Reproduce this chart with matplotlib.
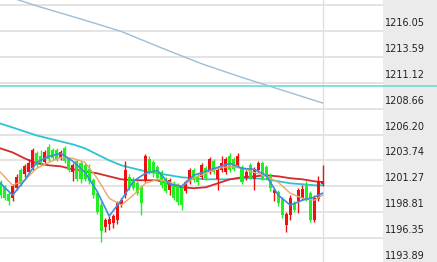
import matplotlib
matplotlib.use("Agg")
import matplotlib.pyplot as plt
import matplotlib.transforms as mtransforms
from matplotlib.patches import Rectangle
import numpy as np

# ---------------- data ----------------
# candle colour flag: 1 = up (red), 0 = down (green)
up = [0, 0, 0, 1, 1, 0, 1, 1, 1, 0, 0, 1, 0, 0, 0, 1, 0, 0, 1, 0,
      0, 0, 0, 0, 0, 0, 1, 1, 1, 1, 1, 1, 0, 0, 0, 0, 1, 0, 0, 0,
      0, 0, 1, 0, 0, 0, 1, 1, 0, 0, 1, 0, 1, 0, 1, 1, 1, 0, 0, 1,
      0, 1, 0, 1, 1, 0, 0, 0, 1, 0, 0, 1, 1, 0, 1, 1, 0, 0, 1, 1, 1]
body_top = [1201.7, 1201.2, 1200.5, 1201.3, 1202.2, 1202.8, 1203.2, 1203.5, 1204.7, 1204.4,
            1204.2, 1204.5, 1205.0, 1204.7, 1204.7, 1204.5, 1204.9, 1203.9, 1203.3, 1203.7,
            1203.5, 1203.3, 1202.9, 1201.9, 1200.6, 1199.5, 1198.1, 1198.2, 1198.4, 1199.7,
            1200.0, 1202.8, 1202.2, 1202.0, 1201.6, 1201.2, 1204.2, 1203.9, 1203.6, 1203.1,
            1202.6, 1202.0, 1201.9, 1201.6, 1201.4, 1201.1, 1201.7, 1202.8, 1202.8, 1202.3,
            1203.3, 1203.0, 1203.9, 1203.7, 1202.8, 1203.5, 1203.9, 1204.2, 1203.9, 1204.2,
            1203.1, 1202.6, 1203.3, 1202.9, 1203.5, 1203.5, 1203.1, 1202.3, 1200.9, 1200.7,
            1200.1, 1198.6, 1200.2, 1199.7, 1200.9, 1201.0, 1201.5, 1200.6, 1200.2, 1201.8, 1201.8]
body_bot = [1200.4, 1200.2, 1199.9, 1200.2, 1201.1, 1201.5, 1202.4, 1202.6, 1203.0, 1203.3,
            1203.5, 1203.6, 1203.9, 1204.0, 1203.9, 1204.0, 1203.7, 1202.8, 1202.6, 1202.0,
            1202.0, 1202.0, 1201.8, 1200.4, 1198.8, 1197.0, 1197.4, 1197.7, 1197.8, 1198.1,
            1199.5, 1200.4, 1201.2, 1201.1, 1200.6, 1199.7, 1201.9, 1202.6, 1202.5, 1202.1,
            1201.4, 1200.8, 1200.9, 1200.2, 1199.8, 1199.5, 1200.8, 1201.7, 1201.9, 1201.7,
            1202.2, 1202.1, 1202.6, 1202.6, 1202.0, 1202.8, 1202.6, 1202.8, 1202.9, 1203.3,
            1201.7, 1202.1, 1202.2, 1202.0, 1202.8, 1202.1, 1202.2, 1201.1, 1200.6, 1199.7,
            1198.5, 1197.6, 1198.5, 1199.0, 1199.9, 1200.2, 1200.2, 1198.1, 1198.1, 1200.1, 1201.5]
high = [1201.9, 1201.4, 1200.7, 1201.5, 1202.4, 1203.0, 1203.4, 1203.9, 1204.9, 1204.6,
        1204.7, 1204.7, 1205.3, 1204.9, 1204.9, 1204.7, 1205.1, 1204.1, 1203.5, 1203.9,
        1203.7, 1203.5, 1203.4, 1202.1, 1200.8, 1199.8, 1198.3, 1198.4, 1198.6, 1199.9,
        1200.2, 1203.7, 1202.4, 1202.2, 1201.8, 1201.4, 1204.3, 1204.2, 1203.8, 1203.3,
        1202.8, 1202.2, 1202.1, 1201.8, 1201.6, 1201.3, 1201.9, 1203.0, 1203.0, 1202.5,
        1203.5, 1203.2, 1204.1, 1203.9, 1203.0, 1204.2, 1204.1, 1204.4, 1204.1, 1204.4,
        1203.3, 1202.8, 1203.5, 1203.1, 1203.7, 1203.7, 1203.3, 1202.5, 1201.1, 1200.9,
        1200.3, 1198.8, 1200.4, 1199.9, 1201.1, 1201.4, 1201.8, 1200.8, 1200.4, 1202.3, 1203.3]
low = [1200.2, 1200.0, 1199.5, 1199.9, 1200.9, 1201.3, 1202.2, 1202.4, 1202.8, 1203.1,
       1203.2, 1203.4, 1203.7, 1203.8, 1203.7, 1203.8, 1203.5, 1202.6, 1201.8, 1201.8,
       1201.6, 1201.8, 1201.5, 1200.2, 1198.6, 1196.0, 1196.9, 1197.1, 1197.3, 1197.7,
       1199.3, 1200.2, 1200.9, 1200.9, 1200.4, 1198.5, 1201.7, 1202.4, 1202.2, 1201.8,
       1201.1, 1200.6, 1200.4, 1200.0, 1199.5, 1199.0, 1200.6, 1201.5, 1201.7, 1201.4,
       1202.0, 1201.9, 1202.4, 1202.4, 1200.9, 1202.6, 1202.4, 1202.6, 1202.7, 1203.1,
       1201.5, 1201.9, 1202.0, 1200.9, 1202.6, 1201.9, 1202.0, 1200.8, 1199.9, 1199.4,
       1198.3, 1196.9, 1198.1, 1198.8, 1198.7, 1200.0, 1199.9, 1197.9, 1197.9, 1199.9, 1201.3]

ma_idx = [0, 3, 6, 9, 12, 15, 18, 21, 24, 27, 30, 33, 36, 39, 42, 45, 48, 51,
          54, 57, 60, 63, 66, 69, 72, 75, 78, 80]
ma_blue = [1201.56, 1200.43, 1201.85, 1203.55, 1204.12, 1204.40, 1203.65, 1202.60,
           1200.80, 1198.44, 1199.95, 1201.75, 1202.51, 1202.79, 1201.47, 1201.28,
           1202.32, 1202.70, 1203.08, 1203.46, 1202.98, 1202.89, 1202.32, 1200.43,
           1199.48, 1199.95, 1200.24, 1200.61]
ma_orange = [1202.60, 1201.37, 1201.85, 1202.98, 1203.55, 1204.02, 1203.93, 1203.55,
             1202.04, 1200.14, 1199.48, 1200.43, 1201.56, 1201.94, 1201.66, 1201.28,
             1202.04, 1202.51, 1202.98, 1203.17, 1202.98, 1202.60, 1202.22, 1201.66,
             1200.61, 1200.14, 1199.95, 1200.43]
ma_red = [1204.88, 1204.50, 1203.93, 1203.46, 1203.27, 1203.17, 1202.89, 1202.70,
          1202.51, 1202.22, 1201.94, 1201.85, 1201.85, 1201.85, 1201.47, 1201.18,
          1201.09, 1201.18, 1201.56, 1201.94, 1202.13, 1202.22, 1202.32, 1202.22,
          1202.04, 1201.94, 1201.75, 1201.66]
ma_teal = [1207.24, 1206.87, 1206.49, 1206.11, 1205.82, 1205.54, 1205.26, 1204.88,
           1204.31, 1203.74, 1203.27, 1202.98, 1202.70, 1202.51, 1202.32, 1202.13,
           1202.04, 1201.94, 1201.94, 1201.94, 1202.04, 1202.04, 1201.94, 1201.75,
           1201.56, 1201.47, 1201.37, 1201.37]
long_idx = [0, 10, 20, 30, 40, 50, 60, 70, 80]
ma_long = [1219.55, 1218.32, 1217.19, 1216.01, 1214.44, 1212.93, 1211.63, 1210.42, 1209.20]

h_level = 1210.82
tick_vals = [1218.51, 1216.05, 1213.59, 1211.12, 1208.66, 1206.20, 1203.74,
             1201.27, 1198.81, 1196.35, 1193.89]
tick_labels = ["1218.51", "1216.05", "1213.59", "1211.12", "1208.66", "1206.20",
               "1203.74", "1201.27", "1198.81", "1196.35", "1193.89"]

# ---------------- figure ----------------
W, H = 437, 262
fig = plt.figure(figsize=(W / 100, H / 100), dpi=100, facecolor="white")
plot_w = 383

# gray label panel (own axes, behind)
pax = fig.add_axes([plot_w / W, 0, 1 - plot_w / W, 1], zorder=0)
pax.set_facecolor("#ebebeb")
pax.set_xticks([]); pax.set_yticks([])
for s in pax.spines.values():
    s.set_visible(False)

ax = fig.add_axes([0, 0, plot_w / W, 1], zorder=1)
ax.set_facecolor("white")
for s in ax.spines.values():
    s.set_visible(False)
ax.set_xticks([])
ax.set_yticks([])

px = 4.025
ax.set_xlim(-0.5 / px, (plot_w - 0.5) / px)
ax.set_ylim(1194.07, 1219.00)

# grid lines
for v in tick_vals:
    ax.axhline(v, color="#e4e4e4", lw=1.4, zorder=1)
# vertical cursor line
ax.axvline(80 + 0.05, color="#e0e0e0", lw=1.0, zorder=1)

# horizontal level line across everything
ax.axhline(h_level, xmin=0, xmax=W / plot_w, color="#6fd9d2", lw=1.2, clip_on=False, zorder=3)

# moving averages
ax.plot(long_idx, ma_long, color="#9dbfd6", lw=1.0, zorder=2)
ax.plot(ma_idx, ma_teal, color="#2cc4d4", lw=1.3, zorder=2)
ax.plot(ma_idx, ma_red, color="#d42a2a", lw=1.3, zorder=2)

# candles
red_c = "#ee1111"
green_c = "#22ee22"
for i in range(len(up)):
    c = red_c if up[i] else green_c
    ax.vlines(i, low[i], high[i], color=c, lw=1.0, zorder=4)
    ax.bar(i, body_top[i] - body_bot[i], bottom=body_bot[i], width=0.75,
           color=c, edgecolor="none", zorder=4)

ax.plot(ma_idx, ma_orange, color="#e8a86a", lw=1.0, zorder=5)
ax.plot(ma_idx, ma_blue, color="#3a8ee6", lw=1.2, zorder=5)

# tick labels in the gray panel
off = mtransforms.offset_copy(ax.get_yaxis_transform(), fig=fig, x=0, y=8, units="dots")
for v, t in zip(tick_vals, tick_labels):
    ax.text(1.005, v, t, transform=off, ha="left", va="center", fontsize=7,
            family="DejaVu Sans", color="#222222", clip_on=False, zorder=6)

fig.savefig("out.png", dpi=100, facecolor="white")
